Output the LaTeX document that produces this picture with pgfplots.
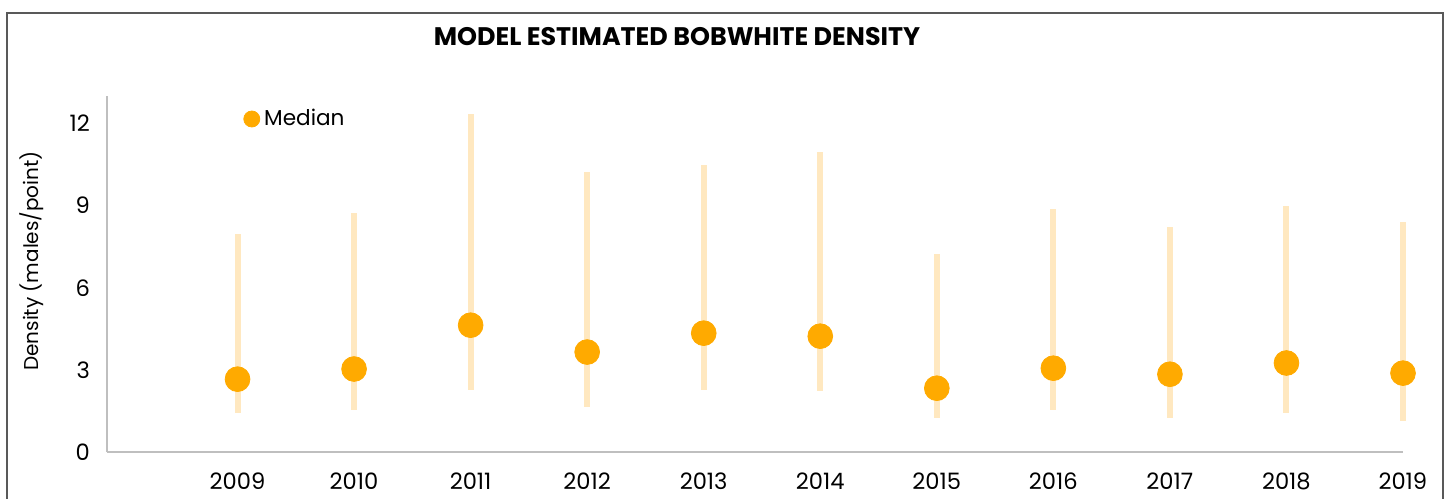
\documentclass[border=0pt]{standalone}
\usepackage{pgfplots}
\pgfplotsset{compat=1.18}
\usepackage{pgfplotstable}
\usepackage{fontspec}
\setmainfont{Poppins}
\definecolor{med}{HTML}{FFAA00}
\definecolor{barc}{HTML}{FFE8C0}
\definecolor{axgray}{HTML}{BFBFBF}
\definecolor{framec}{HTML}{595959}

\pgfplotstableread{
year med lo hi
2009 2.66 1.42 7.95
2010 3.03 1.53 8.72
2011 4.63 2.26 12.33
2012 3.65 1.64 10.21
2013 4.34 2.26 10.47
2014 4.23 2.22 10.94
2015 2.33 1.24 7.22
2016 3.06 1.53 8.86
2017 2.84 1.24 8.21
2018 3.25 1.42 8.97
2019 2.88 1.13 8.39
}\data

\begin{document}
\begin{tikzpicture}[x=1pt,y=1pt]
\path[use as bounding box] (-53.5,-23) rectangle (673.5,226);
\draw[framec, line width=1pt] (-50,-30) -- (-50,219.5) -- (668,219.5) -- (668,-30);
\node[font=\fontsize{12.7}{14}\selectfont\bfseries] at (285,207.5) {MODEL ESTIMATED BOBWHITE DENSITY};
\begin{axis}[
  at={(0,0)}, anchor=south west, scale only axis,
  width=648pt, height=178pt,
  xmin=2007.88, xmax=2019, ymin=0, ymax=13,
  axis lines=left,
  axis line style={-, axgray, line width=0.8pt},
  major tick length=0pt,
  xtick={2009,...,2019}, ytick={0,3,6,9,12},
  /pgf/number format/1000 sep={},
  /pgf/number format/assume math mode=true,
  tick label style={font=\fontsize{11.3}{13}\selectfont},
  yticklabel style={xshift=-5pt},
  xticklabel style={yshift=-7pt},
  ylabel={Density (males/point)},
  ylabel style={font=\fontsize{10.8}{12}\selectfont},
  every axis y label/.style={at={(-37.5pt,95.5pt)}, rotate=90, anchor=center},
  clip=false,
  legend style={draw=none, fill=none, at={(68pt,166.5pt)}, anchor=west,
    font=\fontsize{10.8}{12}\selectfont, inner sep=0pt,
    /tikz/every even column/.append style={column sep=0pt}},
  legend cell align=left,
]
\addplot[draw=none, mark=none, forget plot,
  error bars/.cd, y dir=both, y explicit,
  error bar style={barc, line width=3pt, line cap=butt},
  error mark=none]
  table[x=year, y=med,
    y error plus expr=\thisrow{hi}-\thisrow{med},
    y error minus expr=\thisrow{med}-\thisrow{lo}] {\data};
\addplot[color=med, only marks, mark=*, mark size=6.2pt, mark options={fill=med, draw=med},
  legend image code/.code={\fill[med] (4pt,0) circle (4pt);}]
  table[x=year, y=med] {\data};
\legend{Median}
\end{axis}
\end{tikzpicture}
\end{document}
